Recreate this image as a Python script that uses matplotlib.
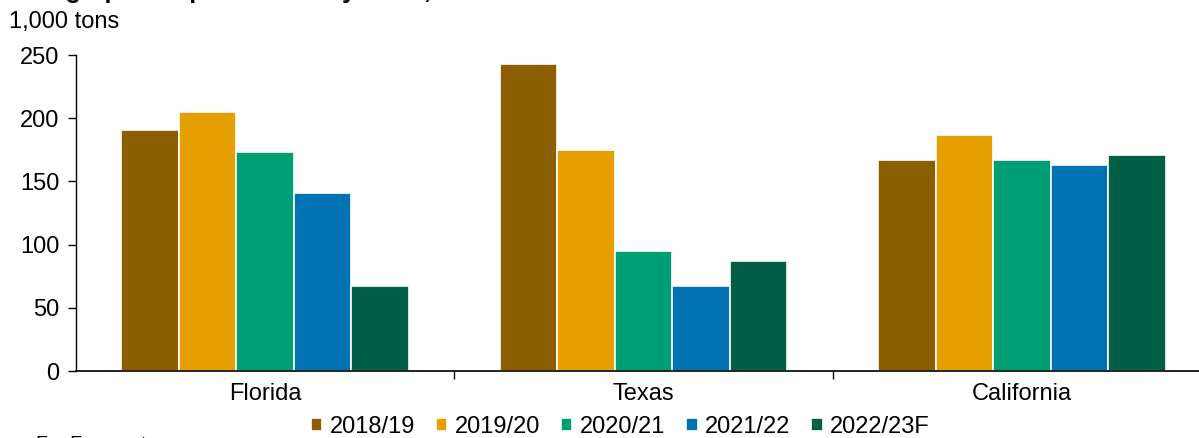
import matplotlib
matplotlib.use("Agg")
import matplotlib.pyplot as plt
import numpy as np

plt.rcParams['font.family'] = ['Liberation Sans', 'DejaVu Sans']

states = ["Florida", "Texas", "California"]
seasons = ["2018/19", "2019/20", "2020/21", "2021/22", "2022/23F"]
florida = [191, 205, 173, 141, 67]
texas = [243, 175, 95, 67, 87]
california = [167, 187, 167, 163, 171]
colors = ["#8B5E00", "#E69F00", "#009E73", "#0072B2", "#005F45"]
yticks = [0, 50, 100, 150, 200, 250]

values = np.array([florida, texas, california])

W, H = 1199, 438
fig = plt.figure(figsize=(W / 100, H / 100), dpi=100)
left, right, bottom, top = 76, 1211, 371, 55
ax = fig.add_axes([left / W, (H - bottom) / H, (right - left) / W, (bottom - top) / H])

x = np.arange(len(states))
bw = 0.152
for i, season in enumerate(seasons):
    ax.bar(x + (i - 2) * bw, values[:, i], width=bw, color=colors[i],
           edgecolor="white", linewidth=1.2, label=season, zorder=2)

fs = 17
ax.set_xlim(-0.5, 2.5)
ax.set_ylim(0, 250)
ax.set_yticks(yticks)
ax.tick_params(axis='y', labelsize=fs, length=6, width=1, direction='out', pad=6)
ax.set_xticks(x)
ax.set_xticklabels(states)
ax.tick_params(axis='x', which='major', length=0, labelsize=fs, pad=9)
ax.set_xticks([0.5, 1.5], minor=True)
ax.tick_params(axis='x', which='minor', length=6, width=1, direction='out')

for s in ["top", "right"]:
    ax.spines[s].set_visible(False)
ax.spines["left"].set_linewidth(1)
ax.spines["bottom"].set_linewidth(1.2)

fig.text(9 / W, 1 - 28 / H, "1,000 tons", fontsize=fs, va="baseline", ha="left")
fig.text(10 / W, 1 + 2 / H, "U.S. grapefruit production by State, 2018/19\u20132022/23F",
         fontsize=18, fontweight="bold", va="baseline", ha="left")
fig.text(36 / W, 1 - 449 / H, "F = Forecast", fontsize=14, va="baseline", ha="left")

fig.legend(loc="center", bbox_to_anchor=(620 / W, 1 - 427 / H), ncol=5,
           fontsize=fs, frameon=False, handlelength=0.5, handleheight=0.5,
           handletextpad=0.3, columnspacing=0.88, borderpad=0)

fig.savefig("out.png", dpi=100)
